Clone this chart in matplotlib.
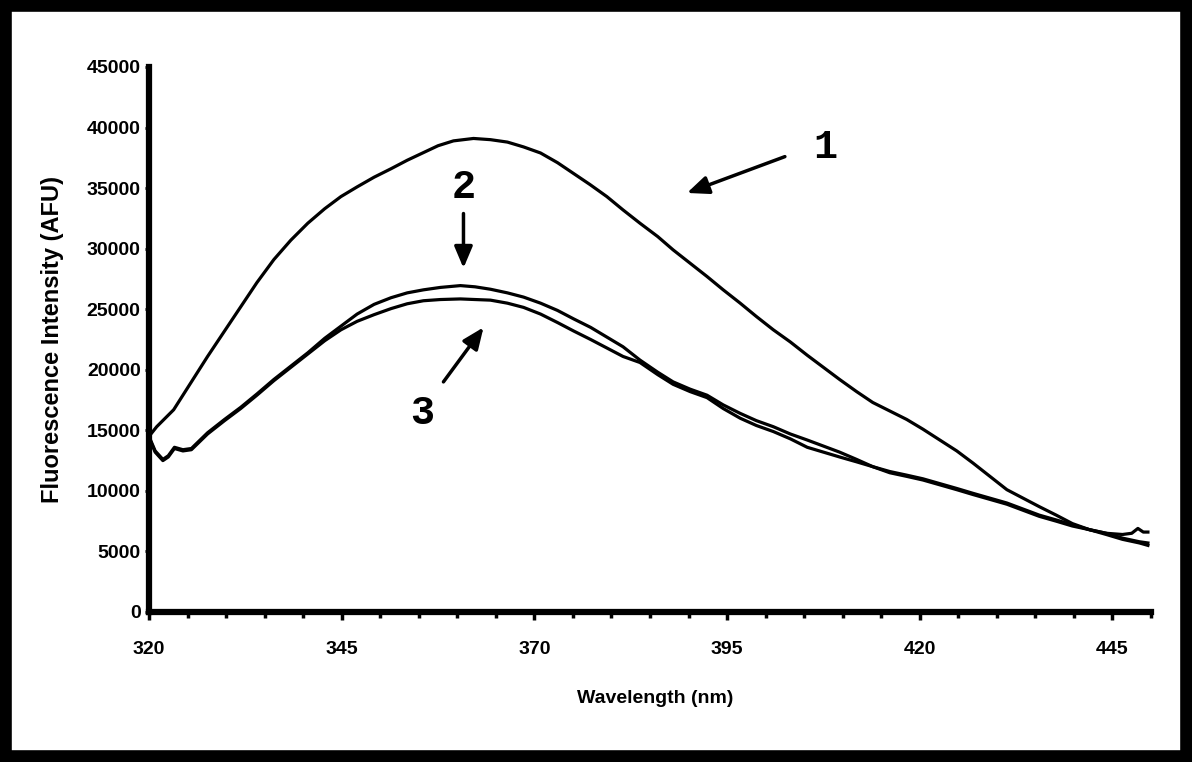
import numpy as np
import matplotlib
matplotlib.use('Agg')
import matplotlib.pyplot as plt
from matplotlib.patches import Rectangle
from matplotlib.ticker import MultipleLocator

# curve 1 (highest)
wl1 = [320.0, 321.0, 323.2, 325.4, 327.6, 329.8, 331.9, 334.0, 336.2, 338.4, 340.6, 342.8,
       344.9, 347.0, 349.2, 351.4, 353.5, 355.5, 357.5, 359.5, 362.1, 364.3, 366.5, 368.6,
       370.8, 373.0, 375.1, 377.2, 379.4, 381.5, 383.7, 386.0, 388.0, 390.2, 392.4, 394.5,
       396.7, 398.8, 401.0, 403.2, 405.4, 407.5, 409.6, 411.8, 413.9, 416.1, 418.3, 420.4,
       422.6, 424.8, 426.9, 429.1, 431.3, 433.4, 435.5, 437.7, 439.8, 442.0, 444.2, 446.3,
       448.5, 449.6]
f1 = [14500, 15300, 16700, 18900, 21100, 23200, 25200, 27200, 29100, 30700, 32100, 33300,
      34300, 35100, 35900, 36600, 37300, 37900, 38500, 38900, 39100, 39000, 38800, 38400,
      37900, 37100, 36200, 35300, 34300, 33200, 32100, 31000, 29900, 28800, 27700, 26600,
      25500, 24400, 23300, 22300, 21200, 20200, 19200, 18200, 17300, 16600, 15900, 15100,
      14200, 13300, 12300, 11200, 10100, 9400, 8700, 8000, 7300, 6800, 6400, 6000,
      5700, 5500]

# curve 2
wl2 = [320.0, 320.8, 321.8, 322.5, 323.3, 324.4, 325.5, 327.6, 329.8, 331.9, 334.0, 336.2,
       338.4, 340.6, 342.8, 344.9, 347.0, 349.2, 351.4, 353.5, 355.6, 357.8, 360.4, 362.3,
       364.3, 366.5, 368.6, 370.8, 373.0, 375.1, 377.3, 379.4, 381.5, 383.7, 386.0, 388.0,
       390.2, 392.4, 394.5, 396.7, 398.8, 401.0, 403.2, 405.4, 407.5, 409.6, 411.8, 413.9,
       416.1, 418.3, 420.4, 422.6, 424.8, 426.9, 429.1, 431.3, 433.4, 435.5, 437.7, 439.8,
       442.0, 444.2, 446.3, 448.5, 449.6]
f2 = [14500, 13300, 12600, 12900, 13600, 13400, 13500, 14800, 15900, 16900, 18000, 19200,
      20300, 21400, 22600, 23600, 24600, 25400, 25950, 26350, 26600, 26800, 26950, 26850,
      26650, 26350, 26000, 25500, 24900, 24200, 23500, 22700, 21900, 20800, 19800, 19000,
      18400, 17900, 17100, 16400, 15800, 15300, 14700, 14200, 13700, 13200, 12600, 12000,
      11600, 11300, 11000, 10600, 10200, 9800, 9400, 9000, 8500, 8000, 7600, 7200,
      6800, 6500, 6100, 5800, 5700]

# curve 3
wl3 = [320.0, 320.8, 321.8, 322.5, 323.3, 324.4, 325.5, 327.6, 329.8, 331.9, 334.0, 336.2,
       338.4, 340.6, 342.8, 344.9, 347.0, 349.2, 351.4, 353.5, 355.6, 357.8, 360.4, 362.3,
       364.3, 366.5, 368.6, 370.8, 373.0, 375.1, 377.3, 379.4, 381.5, 383.7, 386.0, 388.0,
       390.2, 392.4, 394.5, 396.7, 398.8, 401.0, 403.2, 405.4, 407.5, 409.6, 411.8, 413.9,
       416.1, 418.3, 420.4, 422.6, 424.8, 426.9, 429.1, 431.3, 433.4, 435.5, 437.7, 439.8,
       442.0, 444.2, 446.3, 447.5, 448.3, 449.0, 449.6]
f3 = [14400, 13200, 12500, 12800, 13500, 13300, 13400, 14700, 15800, 16800, 17900, 19100,
      20200, 21300, 22400, 23300, 24000, 24550, 25050, 25450, 25700, 25800, 25850, 25800,
      25750, 25500, 25150, 24600, 23900, 23200, 22500, 21800, 21100, 20600, 19600, 18800,
      18200, 17700, 16800, 16000, 15400, 14900, 14300, 13600, 13200, 12800, 12400, 12000,
      11500, 11200, 10900, 10500, 10100, 9700, 9300, 8900, 8400, 7900, 7500, 7100,
      6800, 6500, 6400, 6500, 6900, 6600, 6600]

xticks = [320, 345, 370, 395, 420, 445]
yticks = [0, 5000, 10000, 15000, 20000, 25000, 30000, 35000, 40000, 45000]

# curve labels: (text, text position, arrow tail, arrow head)
labels = [('1', (407.7, 38400), (402.5, 37600), (389.8, 34600)),
          ('2', (360.8, 35100), (360.8, 32900), (360.8, 28400)),
          ('3', (355.5, 16400), (358.2, 19000), (363.4, 23500))]

fig = plt.figure(figsize=(11.92, 7.62), dpi=100)
ax = fig.add_axes([149/1192, 1-612/762, (1151-149)/1192, (612-67)/762])

for x, y in [(wl1, f1), (wl2, f2), (wl3, f3)]:
    ax.plot(x, y, color='black', lw=2.3, solid_joinstyle='round')

ax.set_xlim(320, 450)
ax.set_ylim(0, 45000)
ax.set_xticks(xticks)
ax.set_yticks(yticks)
ax.xaxis.set_minor_locator(MultipleLocator(5))
ax.yaxis.set_minor_locator(MultipleLocator(1000))

ax.spines['top'].set_visible(False)
ax.spines['right'].set_visible(False)
ax.spines['left'].set_linewidth(4.5)
ax.spines['bottom'].set_linewidth(4.5)

tickfont = ['Liberation Sans', 'DejaVu Sans']
ax.tick_params(axis='x', which='major', length=6, width=2.5, pad=15, direction='out')
ax.tick_params(axis='x', which='minor', length=4, width=2.5, direction='out')
ax.tick_params(axis='y', which='major', length=3, width=2, pad=3, direction='out')
ax.tick_params(axis='y', which='minor', length=2.5, width=2, direction='out')
for lab in ax.get_xticklabels() + ax.get_yticklabels():
    lab.set_fontfamily(tickfont)
    lab.set_fontsize(14)
    lab.set_fontweight('bold')

ax.set_xlabel('Wavelength (nm)', fontsize=14, fontweight='bold', family=tickfont)
ax.set_ylabel('Fluorescence Intensity (AFU)', fontsize=17, fontweight='bold', family=tickfont)
ax.xaxis.set_label_coords(0.505, -0.143)
ax.yaxis.set_label_coords(-0.085, 0.5)

for txt, tpos, tail, head in labels:
    ax.text(tpos[0], tpos[1], txt, fontsize=29, fontweight='bold',
            family=['Liberation Mono', 'DejaVu Sans Mono'], ha='center', va='center')
    ax.annotate('', xy=head, xytext=tail,
                arrowprops=dict(arrowstyle='-|>,head_length=1.3,head_width=0.55',
                                color='black', lw=2.5, shrinkA=0, shrinkB=0))

# thick black frame round the figure
fig.add_artist(Rectangle((0, 0), 1, 1, transform=fig.transFigure, fill=False,
                         edgecolor='black', lw=17, clip_on=False))

fig.savefig('out.png', dpi=100)
